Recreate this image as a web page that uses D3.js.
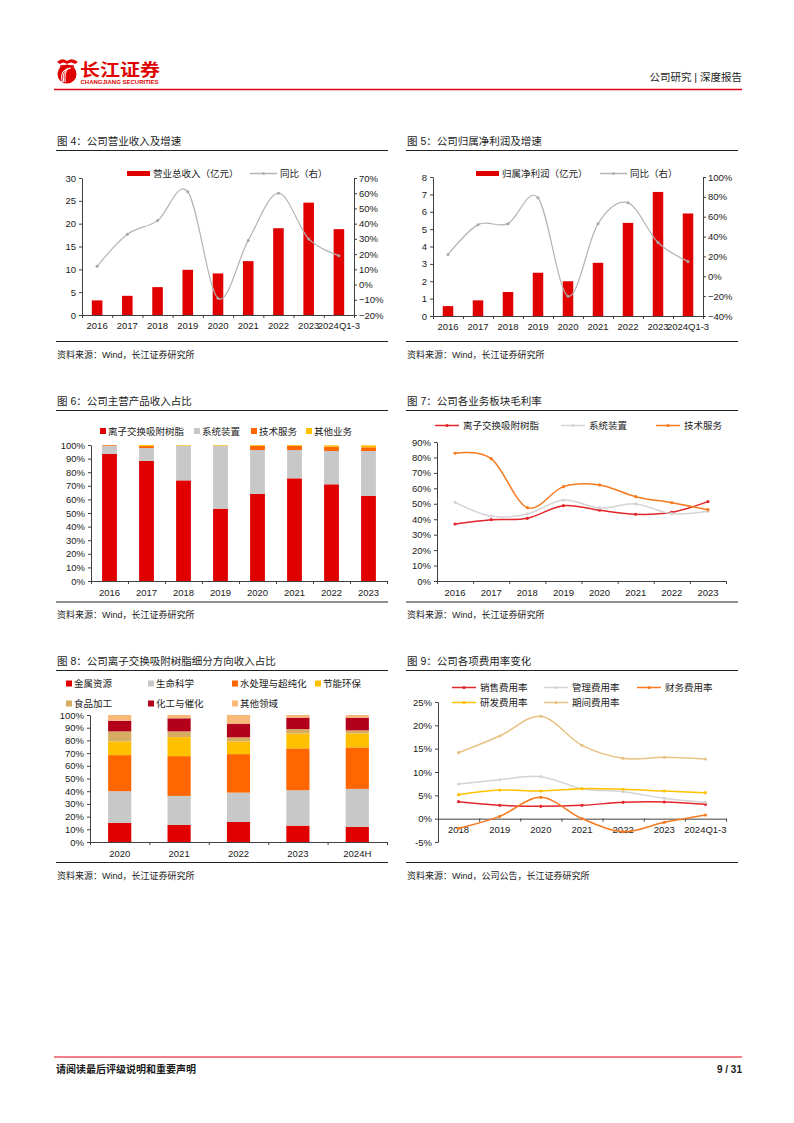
<!DOCTYPE html>
<html><head><meta charset="utf-8">
<script src="https://cdn.jsdelivr.net/npm/d3@7"></script>
<style>
body{margin:0;background:#fff}
svg{display:block}
text{font-family:"Liberation Sans","Noto Sans CJK SC",sans-serif}
</style>
</head><body>
<svg id="page" width="794" height="1123"></svg>
<script>
// ---------------- DATA ----------------
const years9 = ["2016","2017","2018","2019","2020","2021","2022","2023","2024Q1-3"];
const revenue = [3.2,4.2,6.1,9.9,9.1,11.8,19.0,24.6,18.8];
const revenueYoY = [0.12,0.33,0.42,0.61,-0.09,0.29,0.60,0.30,0.19];
const revenueTicks = [0,5,10,15,20,25,30];
const revenueYoYTicks = [-0.2,-0.1,0,0.1,0.2,0.3,0.4,0.5,0.6,0.7];

const netProfit = [0.57,0.90,1.38,2.49,2.00,3.06,5.36,7.14,5.90];
const netProfitYoY = [0.22,0.52,0.53,0.79,-0.20,0.53,0.74,0.34,0.15];
const profitTicks = [0,1,2,3,4,5,6,7,8];
const profitYoYTicks = [-0.4,-0.2,0,0.2,0.4,0.6,0.8,1.0];

const years8 = ["2016","2017","2018","2019","2020","2021","2022","2023"];
const mixNames = ["离子交换吸附树脂","系统装置","技术服务","其他业务"];
const mixResin   = [93.4,88.3,74.0,53.2,64.0,75.5,71.1,62.5];
const mixSystem  = [6.1,9.5,25.5,46.3,32.3,20.8,24.5,33.1];
const mixService = [0.5,1.4,0,0,3.2,3.2,3.2,2.7];
const mixOther   = [0,0.8,0.5,0.5,0.5,0.5,1.0,1.5];
const pctTicks = [0,10,20,30,40,50,60,70,80,90,100];

const marginNames = ["离子交换吸附树脂","系统装置","技术服务"];
const marginResin   = [36.9,39.7,40.6,48.8,45.8,43.2,44.5,51.4];
const marginSystem  = [50.9,41.9,43.4,52.4,47.3,49.9,43.6,45.1];
const marginService = [82.7,79.2,47.5,61.1,62.2,54.6,50.7,46.2];
const marginTicks = [0,10,20,30,40,50,60,70,80,90];

const years5 = ["2020","2021","2022","2023","2024H"];
const segNames = ["金属资源","生命科学","水处理与超纯化","节能环保","食品加工","化工与催化","其他领域"];
const segMetal  = [15.0,13.4,15.8,12.9,11.8];
const segLife   = [25.0,22.9,23.1,27.9,30.0];
const segWater  = [28.4,31.3,30.3,32.9,32.7];
const segEnergy = [10.8,15.0,10.0,11.8,11.0];
const segFood   = [7.9,4.5,3.2,3.4,2.4];
const segChem   = [8.4,10.3,10.8,9.0,10.0];
const segOther  = [4.5,2.6,6.8,2.1,2.1];

const years7 = ["2018","2019","2020","2021","2022","2023","2024Q1-3"];
const rateNames = ["销售费用率","管理费用率","财务费用率","研发费用率","期间费用率"];
const sellRate   = [3.64,2.86,2.64,2.86,3.50,3.57,3.07];
const adminRate  = [7.43,8.36,9.00,6.43,5.79,4.36,3.50];
const finRate    = [-2.07,0.50,4.57,0.00,-2.79,-0.79,0.79];
const rdRate     = [5.14,6.14,5.93,6.43,6.29,5.93,5.57];
const periodRate = [14.14,17.71,21.93,15.71,12.93,13.14,12.79];
const rateTicks = [-5,0,5,10,15,20,25];

// ---------------- DRAWING ----------------
const svg = d3.select("#page");
const INK = "#1a1a1a", AX = "#404040";
const RED = "#e00000";

function txt(x,y,s,size,opts={}){
  const t = svg.append("text").attr("x",x).attr("y",y).text(s)
    .attr("font-size",size).attr("fill",opts.fill||INK);
  if(opts.anchor) t.attr("text-anchor",opts.anchor);
  if(opts.weight) t.attr("font-weight",opts.weight);
  return t;
}
function hline(x0,x1,y,color,w){
  svg.append("line").attr("x1",x0).attr("x2",x1).attr("y1",y).attr("y2",y)
    .attr("stroke",color).attr("stroke-width",w);
}
function frame(x0,x1,title,titleY,source,srcLineY){
  txt(x0+1,titleY,title,10.5);
  hline(x0,x1,titleY+5.5,"#222",1);
  hline(x0,x1,srcLineY,"#222",1);
  txt(x0+1,srcLineY+16,source,9);
}
function styleAxis(g,size){
  g.selectAll("path.domain").attr("stroke",AX).attr("stroke-width",1);
  g.selectAll(".tick line").attr("stroke",AX);
  g.selectAll(".tick text").attr("fill",INK).attr("font-size",size||9.5)
    .attr("font-family",'"Liberation Sans","Noto Sans CJK SC",sans-serif');
}
// category x-axis: boundary ticks + centered labels
function catAxis(x0,x1,yAxis,yLabel,cats,band){
  const n = cats.length;
  const bnd = d3.scaleLinear().domain([0,n]).range([x0,x1]);
  const g = svg.append("g").attr("transform",`translate(0,${yAxis})`)
    .call(d3.axisBottom(bnd).tickValues(d3.range(n+1)).tickSize(3).tickSizeOuter(0).tickFormat(""));
  styleAxis(g);
  const gl = svg.append("g").attr("transform",`translate(0,${yLabel})`)
    .call(d3.axisBottom(band).tickSize(0).tickPadding(0));
  gl.select("path.domain").remove();
  styleAxis(gl,9.5);
  gl.selectAll(".tick text").attr("dy","0.35em");
}
function legendRect(x,y,w,h,color,label){
  svg.append("rect").attr("x",x).attr("y",y-h/2).attr("width",w).attr("height",h).attr("fill",color);
  txt(x+w+3,y+3.5,label,9.5);
}
function legendLine(x,y,w,color,label,gap){
  hline(x,x+w,y,color,1.5);
  svg.append("circle").attr("cx",x+w/2).attr("cy",y).attr("r",1.6).attr("fill",color);
  txt(x+w+(gap||3),y+3.5,label,9.5);
}

// ---- header ----
(function header(){
  const g = svg.append("g");
  // emblem
  g.append("circle").attr("cx",67).attr("cy",74).attr("r",9.5).attr("fill",RED);
  [3,5.5,8].forEach(r=>{
    g.append("path").attr("d",`M${67-r*0.6},${82} Q${67-r},${74-r*0.6} ${67+r*0.5},${68}`)
      .attr("fill","none").attr("stroke","#fff").attr("stroke-width",1);
  });
  g.append("path").attr("d","M57,62 Q62,57 67,61 Q72,57 78,62 L75,64 Q71,61 67,64 Q63,61 60,64 Z").attr("fill",RED);
  g.append("path").attr("d","M60,66 L74,66").attr("stroke",RED).attr("stroke-width",1.5);
  g.append("text").attr("x",80).attr("y",76).text("长江证券").attr("font-size",17)
    .attr("font-weight","bold").attr("fill",RED).attr("textLength",80).attr("lengthAdjust","spacingAndGlyphs");
  g.append("text").attr("x",80.5).attr("y",83.5).text("CHANGJIANG SECURITIES").attr("font-size",5.2)
    .attr("font-weight","bold").attr("fill",RED).attr("textLength",78).attr("lengthAdjust","spacingAndGlyphs");
  txt(742,81,"公司研究 | 深度报告",10.5,{anchor:"end"});
  hline(54,742,89.5,"#e60012",1.6);
  // footer
  hline(54,742,1057,"#e60012",1.2);
  txt(56,1073,"请阅读最后评级说明和重要声明",10,{weight:"bold"});
  txt(742,1073,"9 / 31",10,{anchor:"end",weight:"bold"});
})();

// ---- combo bar + line ----
function combo(o){
  frame(o.fx0,o.fx1,o.title,o.titleY,"资料来源：Wind，长江证券研究所",o.srcLineY);
  const band = d3.scaleBand().domain(o.cats).range([o.x0,o.x1]).paddingInner(0.65).paddingOuter(0.325);
  const yL = d3.scaleLinear().domain([o.lTicks[0],o.lTicks[o.lTicks.length-1]]).range([o.yB,o.yT]);
  const yR = d3.scaleLinear().domain([o.rTicks[0],o.rTicks[o.rTicks.length-1]]).range([o.yB,o.yT]);
  svg.append("g").selectAll("rect").data(o.bars).join("rect")
    .attr("x",(d,i)=>band(o.cats[i])).attr("width",band.bandwidth())
    .attr("y",d=>yL(d)).attr("height",d=>yL(0)-yL(d)).attr("fill",RED);
  const gl = svg.append("g").attr("transform",`translate(${o.x0},0)`)
    .call(d3.axisLeft(yL).tickValues(o.lTicks).tickSize(3).tickSizeOuter(0).tickPadding(3).tickFormat(d3.format("d")));
  styleAxis(gl);
  const gr = svg.append("g").attr("transform",`translate(${o.x1},0)`)
    .call(d3.axisRight(yR).tickValues(o.rTicks).tickSize(3).tickSizeOuter(0).tickPadding(2).tickFormat(d3.format(".0%")));
  styleAxis(gr);
  catAxis(o.x0,o.x1,o.yB,o.yB+11,o.cats,band);
  const cx = (d,i)=>band(o.cats[i])+band.bandwidth()/2;
  svg.append("path").datum(o.line)
    .attr("d",d3.line().x(cx).y(d=>yR(d)).curve(d3.curveCardinal.tension(0)))
    .attr("fill","none").attr("stroke","#b4b4b4").attr("stroke-width",1.2);
  svg.append("g").selectAll("circle").data(o.line).join("circle")
    .attr("cx",cx).attr("cy",d=>yR(d)).attr("r",1.5).attr("fill","#a8a8a8");
  legendRect(o.leg1x,o.legY,23,5,RED,o.barName);
  legendLine(o.leg2x,o.legY,27,"#b4b4b4","同比（右）");
}
combo({fx0:56,fx1:388,title:"图 4：公司营业收入及增速",titleY:145,srcLineY:341.5,
  x0:82,x1:354,yT:178,yB:315,cats:years9,bars:revenue,line:revenueYoY,
  lTicks:revenueTicks,rTicks:revenueYoYTicks,leg1x:127,leg2x:250,legY:173.5,barName:"营业总收入（亿元）"});
combo({fx0:406,fx1:738,title:"图 5：公司归属净利润及增速",titleY:145,srcLineY:341.5,
  x0:433,x1:703,yT:177,yB:316,cats:years9,bars:netProfit,line:netProfitYoY,
  lTicks:profitTicks,rTicks:profitYoYTicks,leg1x:476,leg2x:600,legY:173.5,barName:"归属净利润（亿元）"});

// ---- stacked percentage bars ----
function stacked(o){
  frame(o.fx0,o.fx1,o.title,o.titleY,"资料来源：Wind，长江证券研究所",o.srcLineY);
  const band = d3.scaleBand().domain(o.cats).range([o.x0,o.x1]).paddingInner(o.pad).paddingOuter(o.pad/2);
  const y = d3.scaleLinear().domain([0,100]).range([o.yB,o.yT]);
  const rows = o.cats.map((c,i)=>{const r={cat:c}; o.names.forEach((n,k)=>r[n]=o.series[k][i]); return r;});
  const st = d3.stack().keys(o.names)(rows);
  st.forEach((layer,k)=>{
    svg.append("g").selectAll("rect").data(layer).join("rect")
      .attr("x",d=>band(d.data.cat)).attr("width",band.bandwidth())
      .attr("y",d=>y(d[1])).attr("height",d=>Math.max(0,y(d[0])-y(d[1])))
      .attr("fill",o.colors[k]);
  });
  const gl = svg.append("g").attr("transform",`translate(${o.x0},0)`)
    .call(d3.axisLeft(y).tickValues(pctTicks).tickSize(3).tickSizeOuter(0).tickPadding(3).tickFormat(d=>d+"%"));
  styleAxis(gl);
  catAxis(o.x0,o.x1,o.yB,o.yB+11.5,o.cats,band);
  o.legend.forEach((L,k)=>{
    svg.append("rect").attr("x",L[0]).attr("y",L[1]-3).attr("width",6).attr("height",6).attr("fill",o.colors[k]);
    txt(L[0]+8,L[1]+3.5,o.names[k],9.5);
  });
}
stacked({fx0:56,fx1:388,title:"图 6：公司主营产品收入占比",titleY:405,srcLineY:602,
  x0:91,x1:387,yT:445,yB:581,pad:0.6,cats:years8,names:mixNames,
  series:[mixResin,mixSystem,mixService,mixOther],
  colors:["#e00000","#c8c8c8","#ff6600","#ffc000"],
  legend:[[100,431],[194,431],[251,431],[306,431]]});
stacked({fx0:56,fx1:388,title:"图 8：公司离子交换吸附树脂细分方向收入占比",titleY:665,srcLineY:862.5,
  x0:90,x1:387,yT:715,yB:842,pad:0.61,cats:years5,names:segNames,
  series:[segMetal,segLife,segWater,segEnergy,segFood,segChem,segOther],
  colors:["#e00000","#c8c8c8","#ff6600","#ffc000","#d6ab62","#b3001b","#f8b878"],
  legend:[[66,683.5],[148,683.5],[232,683.5],[315,683.5],[66,703.5],[148,703.5],[232,703.5]]});

// ---- line charts ----
function lines(o){
  frame(o.fx0,o.fx1,o.title,o.titleY,o.source,o.srcLineY);
  const band = d3.scaleBand().domain(o.cats).range([o.x0,o.x1]);
  const y = d3.scaleLinear().domain([o.ticks[0],o.ticks[o.ticks.length-1]]).range([o.yB,o.yT]);
  const gl = svg.append("g").attr("transform",`translate(${o.x0},0)`)
    .call(d3.axisLeft(y).tickValues(o.ticks).tickSize(3).tickSizeOuter(0).tickPadding(3).tickFormat(d=>d+"%"));
  styleAxis(gl);
  catAxis(o.x0,o.x1,y(o.baseline),o.labelY,o.cats,band);
  const cx = (d,i)=>band(o.cats[i])+band.bandwidth()/2;
  o.series.forEach((s,k)=>{
    svg.append("path").datum(s)
      .attr("d",d3.line().x(cx).y(d=>y(d)).curve(d3.curveCardinal.tension(0)))
      .attr("fill","none").attr("stroke",o.colors[k]).attr("stroke-width",1.5);
    svg.append("g").selectAll("circle").data(s).join("circle")
      .attr("cx",cx).attr("cy",d=>y(d)).attr("r",1.6).attr("fill",o.colors[k]);
  });
  o.legend.forEach((L,k)=>legendLine(L[0],L[1],24,o.colors[k],o.names[k],4));
}
lines({fx0:406,fx1:738,title:"图 7：公司各业务板块毛利率",titleY:405,srcLineY:602,
  source:"资料来源：Wind，长江证券研究所",
  x0:437,x1:726,yT:442,yB:581,ticks:marginTicks,baseline:0,labelY:592.5,cats:years8,
  names:marginNames,series:[marginResin,marginSystem,marginService],
  colors:["#e3262b","#d4d4d4","#f57a20"],
  legend:[[435,425.5],[561,425.5],[656,425.5]]});
lines({fx0:406,fx1:738,title:"图 9：公司各项费用率变化",titleY:665,srcLineY:862.5,
  source:"资料来源：Wind，公司公告，长江证券研究所",
  x0:438,x1:726,yT:702,yB:842,ticks:rateTicks,baseline:0,labelY:830,cats:years7,
  names:rateNames,series:[sellRate,adminRate,finRate,rdRate,periodRate],
  colors:["#e3262b","#d4d4d4","#f57a20","#ffc000","#e8c283"],
  legend:[[452,687.5],[544,687.5],[637,687.5],[452,702.5],[544,702.5]]});
</script>
</body></html>
